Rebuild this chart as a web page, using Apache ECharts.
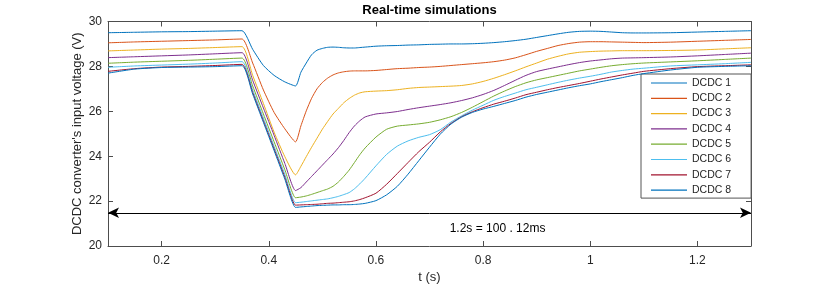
<!DOCTYPE html>
<html><head><meta charset="utf-8">
<script src="https://cdn.jsdelivr.net/npm/echarts@6/dist/echarts.min.js"></script>
<style>html,body{margin:0;padding:0;background:#fff}#c{width:830px;height:289px}</style>
</head><body><div id="c"></div>
<script>
const time = [0.1,0.15,0.2,0.25,0.3,0.35,0.37,0.39,0.41,0.43,0.45,0.46,0.47,0.48,0.49,0.5,0.51,0.52,0.53,0.54,0.55,0.56,0.57,0.58,0.6,0.62,0.64,0.66,0.68,0.7,0.72,0.74,0.76,0.78,0.8,0.82,0.84,0.86,0.88,0.9,0.92,0.94,0.96,0.98,1.0,1.02,1.04,1.06,1.08,1.1,1.15,1.2,1.25,1.3];
const dcdc1 = [29.50,29.52,29.54,29.55,29.57,29.59,28.76,28.04,27.60,27.31,27.13,27.74,28.15,28.52,28.72,28.80,28.85,28.86,28.85,28.83,28.82,28.82,28.84,28.86,28.90,28.92,28.93,28.95,28.96,28.98,28.99,29.00,29.00,29.01,29.03,29.06,29.10,29.15,29.21,29.29,29.37,29.45,29.52,29.56,29.57,29.56,29.53,29.50,29.49,29.49,29.50,29.53,29.56,29.59];
const dcdc2 = [29.05,29.09,29.12,29.15,29.18,29.22,28.15,26.95,25.95,25.22,24.64,25.35,26.02,26.58,27.00,27.28,27.48,27.62,27.71,27.76,27.79,27.80,27.80,27.80,27.82,27.86,27.90,27.92,27.95,27.97,28.00,28.04,28.08,28.12,28.16,28.21,28.28,28.38,28.52,28.67,28.80,28.93,29.02,29.08,29.10,29.10,29.09,29.08,29.07,29.06,29.08,29.12,29.16,29.20];
const dcdc3 = [28.69,28.73,28.77,28.80,28.84,28.88,27.60,26.35,25.07,23.98,23.17,23.55,23.98,24.40,24.80,25.20,25.55,25.88,26.13,26.38,26.57,26.72,26.82,26.87,26.90,26.92,26.96,27.02,27.06,27.08,27.10,27.12,27.15,27.22,27.33,27.47,27.63,27.80,27.98,28.15,28.32,28.45,28.56,28.63,28.66,28.68,28.69,28.70,28.70,28.70,28.71,28.73,28.78,28.83];
const dcdc4 = [28.39,28.43,28.47,28.51,28.56,28.61,27.38,26.15,24.93,23.68,22.47,22.60,22.85,23.10,23.35,23.60,23.85,24.10,24.38,24.70,25.05,25.35,25.58,25.75,25.88,25.93,25.99,26.08,26.16,26.23,26.30,26.38,26.48,26.60,26.75,26.93,27.15,27.38,27.60,27.77,27.88,27.98,28.08,28.17,28.24,28.29,28.34,28.37,28.38,28.39,28.42,28.47,28.53,28.59];
const dcdc5 = [28.14,28.19,28.23,28.27,28.32,28.37,27.13,25.88,24.64,23.40,22.15,22.18,22.23,22.30,22.38,22.46,22.54,22.66,22.85,23.10,23.38,23.72,24.07,24.37,24.85,25.20,25.34,25.39,25.44,25.51,25.62,25.76,25.95,26.18,26.43,26.68,26.90,27.10,27.27,27.40,27.50,27.60,27.70,27.80,27.88,27.96,28.03,28.08,28.12,28.15,28.20,28.25,28.31,28.37];
const dcdc6 = [27.96,28.02,28.06,28.10,28.15,28.21,26.95,25.70,24.44,23.19,21.93,21.95,21.98,22.01,22.04,22.07,22.10,22.15,22.21,22.29,22.38,22.55,22.77,23.02,23.57,24.08,24.45,24.68,24.84,24.96,25.18,25.52,25.80,26.05,26.27,26.49,26.66,26.81,26.96,27.07,27.18,27.29,27.39,27.48,27.56,27.65,27.75,27.82,27.88,27.92,28.02,28.07,28.12,28.18];
const dcdc7 = [27.78,27.90,27.97,28.00,28.04,28.09,26.84,25.58,24.33,23.07,21.82,21.83,21.84,21.85,21.86,21.88,21.90,21.91,21.93,21.95,21.97,22.01,22.07,22.15,22.35,22.75,23.23,23.72,24.20,24.62,25.08,25.46,25.76,25.98,26.16,26.32,26.45,26.59,26.74,26.85,26.96,27.06,27.15,27.24,27.34,27.44,27.53,27.62,27.70,27.78,27.90,27.99,28.03,28.07];
const dcdc8 = [27.70,27.88,27.95,27.97,27.99,28.03,26.77,25.51,24.25,22.98,21.72,21.74,21.76,21.78,21.80,21.81,21.82,21.83,21.83,21.84,21.84,21.85,21.87,21.90,22.02,22.28,22.66,23.20,23.80,24.40,24.98,25.43,25.74,25.95,26.10,26.22,26.35,26.48,26.63,26.75,26.85,26.95,27.05,27.14,27.22,27.32,27.41,27.50,27.60,27.68,27.84,27.96,28.00,28.03];
const seriesNames = ['DCDC 1','DCDC 2','DCDC 3','DCDC 4','DCDC 5','DCDC 6','DCDC 7','DCDC 8'];
const seriesValues = [dcdc1,dcdc2,dcdc3,dcdc4,dcdc5,dcdc6,dcdc7,dcdc8];
const colors = ['#0072BD','#D95319','#EDB120','#7E2F8E','#77AC30','#4DBEEE','#A2142F','#0072BD'];
const xRange = [0.1, 1.3];
const yRange = [20, 30];
const yStep = 2;
const arrowFrom = [0.1, 21.48];
const arrowTo = [1.3, 21.48];
const noteText = '1.2s = 100 . 12ms';
const notePos = [0.827, 20.75];
const titleText = 'Real-time simulations';
const xName = 't (s)';
const yName = "DCDC converter's input voltage (V)";

const FONT = '"Liberation Sans", Arial, Helvetica, sans-serif';
const AX = '#4d4d4d';
const TXT = '#262626';

const chart = echarts.init(document.getElementById('c'), null, {renderer: 'canvas'});

const baseX = {
  type: 'value', min: xRange[0], max: xRange[1], splitNumber: 6,
  axisLine: {show: true, onZero: false, lineStyle: {color: AX, width: 1}},
  axisTick: {show: true, inside: true, length: 5, lineStyle: {color: AX}},
  splitLine: {show: false}
};
const baseY = {
  type: 'value', min: yRange[0], max: yRange[1], interval: yStep,
  axisLine: {show: true, onZero: false, lineStyle: {color: AX, width: 1}},
  axisTick: {show: true, inside: true, length: 5, lineStyle: {color: AX}},
  splitLine: {show: false}
};

const series = seriesValues.map((vals, i) => ({
  name: seriesNames[i],
  type: 'line',
  data: time.map((t, k) => [t, vals[k]]),
  showSymbol: false, symbol: 'none',
  smooth: 0.2,
  lineStyle: {color: colors[i], width: 1},
  itemStyle: {color: colors[i]},
  z: 2 + i
}));

series[series.length - 1].markLine = {
  silent: true, animation: false,
  symbol: ['arrow', 'arrow'], symbolSize: [8, 11],
  lineStyle: {color: '#000', width: 1, type: 'solid'},
  label: {show: false},
  data: [[{coord: arrowFrom}, {coord: arrowTo}]]
};
series[series.length - 1].markPoint = {
  silent: true, animation: false,
  symbol: 'circle', symbolSize: 1,
  itemStyle: {color: 'rgba(0,0,0,0)'},
  label: {show: true, position: 'inside', formatter: noteText, color: '#000', fontSize: 12, fontFamily: FONT},
  data: [{coord: notePos}]
};

chart.setOption({
  animation: false,
  backgroundColor: '#fff',
  textStyle: {fontFamily: FONT},
  title: {
    text: titleText, left: 429.5, top: 4, textAlign: 'center', padding: 0,
    textStyle: {fontSize: 13, fontWeight: 'bold', color: '#000', fontFamily: FONT}
  },
  grid: {left: 108, right: 79, top: 21.5, bottom: 39, containLabel: false},
  legend: {
    data: seriesNames,
    orient: 'vertical', left: 641, top: 74,
    padding: [3, 20, 2, 10],
    icon: 'rect',
    itemWidth: 36, itemHeight: 1.2, itemGap: 3.3,
    backgroundColor: '#fff', borderColor: '#555', borderWidth: 1, borderRadius: 0,
    textStyle: {fontSize: 10.5, color: TXT, lineHeight: 12, fontFamily: FONT},
    selectedMode: false
  },
  xAxis: [
    Object.assign({}, baseX, {
      position: 'bottom',
      axisLabel: {show: true, fontSize: 12, color: TXT, margin: 9, showMinLabel: false, showMaxLabel: false, fontFamily: FONT},
      name: xName, nameLocation: 'middle', nameGap: 25, nameMoveOverlap: false,
      nameTextStyle: {fontSize: 13, color: TXT, fontFamily: FONT}
    }),
    Object.assign({}, baseX, {position: 'top', axisLabel: {show: false}})
  ],
  yAxis: [
    Object.assign({}, baseY, {
      position: 'left',
      axisLabel: {show: true, fontSize: 12, color: TXT, margin: 6, fontFamily: FONT},
      name: yName, nameLocation: 'middle', nameGap: 24, nameMoveOverlap: false,
      nameTextStyle: {fontSize: 13, color: TXT, fontFamily: FONT}
    }),
    Object.assign({}, baseY, {position: 'right', axisLabel: {show: false}})
  ],
  series: series
});
</script></body></html>
